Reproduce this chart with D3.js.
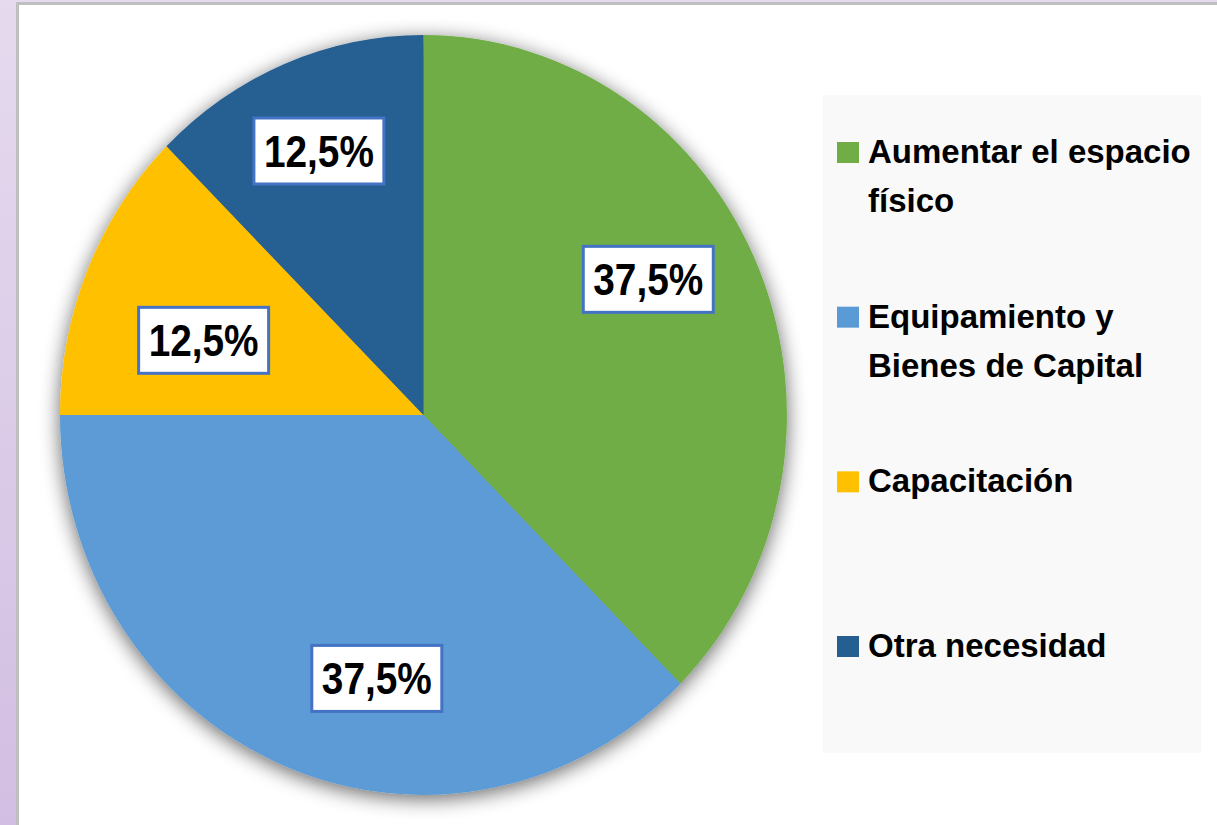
<!DOCTYPE html>
<html>
<head>
<meta charset="utf-8">
<script src="https://cdn.jsdelivr.net/npm/d3@7/dist/d3.min.js"></script>
<style>
  html, body { margin: 0; padding: 0; }
  body { width: 1217px; height: 825px; overflow: hidden; background: linear-gradient(180deg, #e5daee 0%, #d2bee2 100%); }
  svg { display: block; }
</style>
</head>
<body>
<svg id="chart" width="1217" height="825"></svg>
<script>
// ---- data ----
const categories = ["Aumentar el espacio físico", "Equipamiento y Bienes de Capital", "Capacitación", "Otra necesidad"];
const values = [37.5, 37.5, 12.5, 12.5];
const labels = ["37,5%", "37,5%", "12,5%", "12,5%"];
const colors = ["#70ad47", "#5b9bd5", "#ffc000", "#255e91"];

// ---- layout (style, not data) ----
const W = 1217, H = 825;
const cx = 423.5, cy = 415, rx = 363.5, ry = 380;
// label placement hints: angle shift (deg) from slice middle, radius fraction
const labelAngleShift = [-7.5, -12, -4.5, 0];
const labelRadius = [0.714, 0.705, 0.636, 0.752];

const svg = d3.select("#chart");
const defs = svg.append("defs");
const f = defs.append("filter").attr("id", "shadow")
  .attr("x", "-20%").attr("y", "-20%").attr("width", "140%").attr("height", "140%");
f.append("feGaussianBlur").attr("in", "SourceAlpha").attr("stdDeviation", 10).attr("result", "b");
f.append("feOffset").attr("in", "b").attr("dx", 0).attr("dy", 4).attr("result", "o");
f.append("feComponentTransfer").attr("in", "o").attr("result", "s")
  .append("feFuncA").attr("type", "linear").attr("slope", 0.6);
const m = f.append("feMerge");
m.append("feMergeNode").attr("in", "s");
m.append("feMergeNode").attr("in", "SourceGraphic");

// panel
svg.append("rect").attr("x", 17.5).attr("y", 3.5).attr("width", W).attr("height", H)
  .attr("fill", "#ffffff").attr("stroke", "#bfbfbf").attr("stroke-width", 3);

// legend background
svg.append("rect").attr("x", 823).attr("y", 95).attr("width", 378).attr("height", 658)
  .attr("fill", "#f9f9f9");

// pie
const pie = d3.pie().sort(null).value(d => d)(values);
const arc = d3.arc().innerRadius(0).outerRadius(1);
const outer = svg.append("g").attr("transform", `translate(${cx},${cy})`).attr("filter", "url(#shadow)");
const inner = outer.append("g").attr("transform", `scale(${rx},${ry})`);
inner.selectAll("path").data(pie).join("path")
  .attr("d", arc)
  .attr("fill", (d, i) => colors[i]);

// data labels
const bw = 130, bh = 66;
const lab = svg.append("g").selectAll("g").data(pie).join("g")
  .attr("transform", (d, i) => {
    const a = (d.startAngle + d.endAngle) / 2 + labelAngleShift[i] * Math.PI / 180;
    const r = labelRadius[i];
    return `translate(${cx + rx * r * Math.sin(a)},${cy - ry * r * Math.cos(a)})`;
  });
lab.append("rect").attr("x", -bw / 2).attr("y", -bh / 2).attr("width", bw).attr("height", bh)
  .attr("fill", "#ffffff").attr("stroke", "#4472c4").attr("stroke-width", 3);
const lt = lab.append("text").attr("text-anchor", "middle").attr("y", 16)
  .attr("font-family", "'Liberation Sans', Arial, sans-serif")
  .attr("font-weight", "bold").attr("font-size", 44).attr("fill", "#000")
  .text((d, i) => labels[i]);
// condense label text horizontally to ~110px (Calibri-like proportions)
lt.each(function () {
  const w = this.getComputedTextLength();
  if (w > 0) d3.select(this).attr("transform", `scale(${110 / w},1)`);
});

// legend
const yLeg = d3.scalePoint().domain(categories).range([163, 657]);
const leg = svg.append("g").selectAll("g").data(categories).join("g")
  .attr("transform", d => `translate(0,${yLeg(d)})`);
leg.append("rect").attr("x", 837).attr("y", -21).attr("width", 22).attr("height", 21)
  .attr("fill", (d, i) => colors[i]);
const lgText = leg.append("text").attr("x", 868).attr("y", 0)
  .attr("font-family", "'Liberation Sans', Arial, sans-serif")
  .attr("font-weight", "bold").attr("font-size", 33).attr("fill", "#000");
lgText.each(function (d) {
  const t = d3.select(this);
  const words = d.split(" ");
  let line = [];
  let tsp = t.append("tspan").attr("x", 868).attr("dy", 0);
  for (const w of words) {
    line.push(w);
    tsp.text(line.join(" "));
    if (tsp.node().getComputedTextLength() > 335 && line.length > 1) {
      line.pop();
      tsp.text(line.join(" "));
      line = [w];
      tsp = t.append("tspan").attr("x", 868).attr("dy", 49).text(w);
    }
  }
});
</script>
</body>
</html>
